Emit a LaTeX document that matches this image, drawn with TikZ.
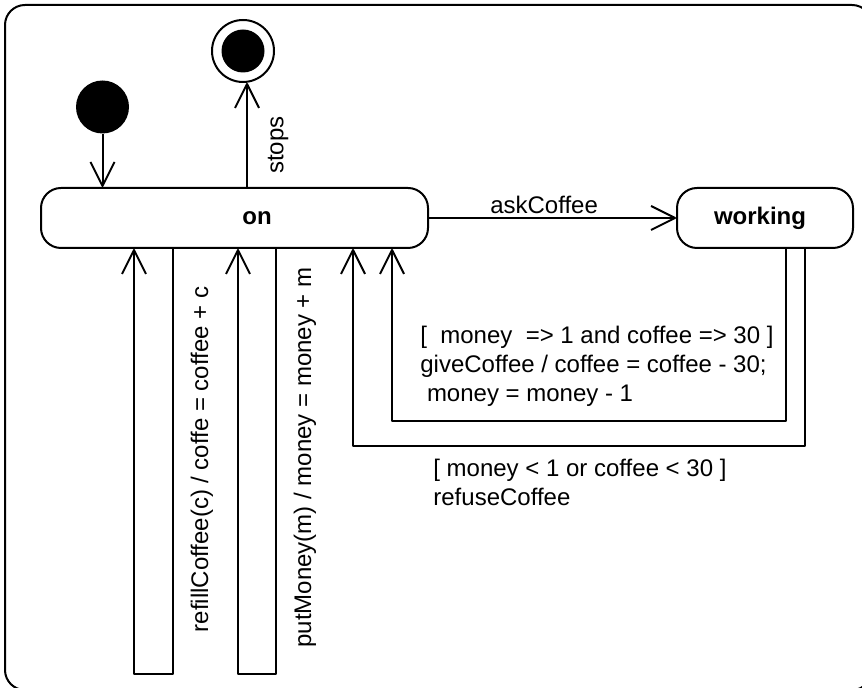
\documentclass[tikz,border=0pt]{standalone}
\usepackage{fontspec}
\setmainfont{Liberation Sans}
\usetikzlibrary{arrows.meta}
\begin{document}
\begin{tikzpicture}[x=0.5pt,y=-0.5pt,
  txt/.style={font=\fontsize{12pt}{14.5pt}\selectfont, inner sep=0pt},
  state/.style={draw, line width=1pt, rounded corners=10pt, minimum height=30pt,
    inner sep=0pt, font=\fontsize{12pt}{14.5pt}\selectfont\bfseries},
  initial/.style={circle, fill=black, inner sep=0pt, minimum size=26.5pt},
  finalring/.style={circle, draw, line width=1pt, inner sep=0pt, minimum size=31pt},
  finaldot/.style={circle, fill=black, inner sep=0pt, minimum size=21.5pt},
  trans/.style={draw, line width=1pt, line join=round,
    -{Straight Barb[length=12pt,width=12pt,line join=round]}},
  wire/.style={draw, line width=1pt}]

\useasboundingbox (0,0) rectangle (862,688);
\clip (0,0) rectangle (862,688);

% enclosing state machine frame
\draw[line width=1pt, rounded corners=10pt] (5,5) rectangle (872,690);

% states
\node[state, minimum width=193.5pt] (on) at (234.5,218) {\hspace*{22.5pt}on};
\node[state, minimum width=88pt] (working) at (765,218) {working\hspace*{5pt}};

% pseudo states
\node[initial] (init) at (102.5,107) {};
\node[finalring] (final) at (243,51) {};
\node[finaldot] (finalcore) at (final) {};

% initial transition
\draw[trans] (init) -- (init |- on.north);

% termination
\draw[trans] ([xshift=6.25pt]on.north) -- ([xshift=6.25pt]on.north |- final.south);
\node[txt, rotate=90] (stopslbl) at (278,145) {stops};

% order a coffee
\draw[trans] (on.east) -- (working.west)
  node[txt, pos=0.466, yshift=6.5pt] (asklbl) {askCoffee};

% self transitions of "on"
\draw[trans] ([xshift=-30.75pt]on.south) -- ++(0,425) -| ([xshift=-50.25pt]on.south);
\node[txt, rotate=90] (refilllbl) at (202,459.5) {refillCoffee(c) / coffe = coffee + c};

\draw[trans] ([xshift=20.75pt]on.south) -- ++(0,425) -| ([xshift=1.75pt]on.south);
\node[txt, rotate=90] (putlbl) at (305,457.5) {putMoney(m) / money = money + m};

% back from "working"
\draw[trans] ([xshift=10.5pt]working.south) -- ++(0,172) -| ([xshift=78.75pt]on.south);
\node[txt, anchor=west, align=left] (givelbl) at (420,366)
  {[\ \ money\ \ => 1 and coffee => 30 ]\\giveCoffee / coffee = coffee - 30;\\\hspace*{3.3pt}money = money - 1};

\draw[trans] ([xshift=20pt]working.south) -- ++(0,197) -| ([xshift=59.25pt]on.south);
\node[txt, anchor=west, align=left] (refuselbl) at (433,482.5)
  {[ money < 1 or coffee < 30 ]\\refuseCoffee};

\end{tikzpicture}
\end{document}
